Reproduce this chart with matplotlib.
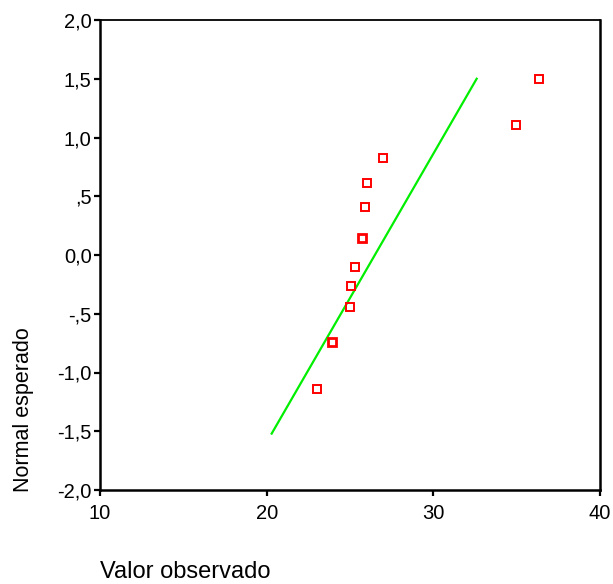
import matplotlib
matplotlib.use("Agg")
import matplotlib.pyplot as plt

plt.rcParams['font.family'] = ['Liberation Sans', 'DejaVu Sans']

# Observed values and expected normal values (Q-Q plot)
observed = [23.02, 23.92, 25.00, 25.06, 25.30, 25.72, 25.92, 26.02, 26.98, 34.98, 36.36]
expected = [-1.138, -0.738, -0.440, -0.261, -0.100, 0.147, 0.411, 0.610, 0.828, 1.109, 1.495]
tied = [False, True, False, False, False, True, False, False, False, False, False]

# Reference line endpoints
line_x = [20.3, 32.6]
line_y = [-1.52, 1.50]

xticks = [10, 20, 30, 40]
xticklabels = ["10", "20", "30", "40"]
yticks = [2.0, 1.5, 1.0, 0.5, 0.0, -0.5, -1.0, -1.5, -2.0]
yticklabels = ["2,0", "1,5", "1,0", ",5", "0,0", "-,5", "-1,0", "-1,5", "-2,0"]

W, H = 613, 584
fig = plt.figure(figsize=(W / 100, H / 100), dpi=100)
ax = fig.add_axes([100 / W, (H - 490) / H, 500 / W, 470 / H])

ax.plot(line_x, line_y, color='#00ee00', lw=1.6, zorder=2)

for x, y, t in zip(observed, expected, tied):
    ax.plot([x], [y], marker='s', linestyle='none', markersize=5.4,
            markerfacecolor='none', markeredgecolor='#ff0000',
            markeredgewidth=2.0 if t else 1.4, zorder=3)

ax.set_xlim(10, 40)
ax.set_ylim(-2, 2)
ax.set_xticks(xticks)
ax.set_xticklabels(xticklabels)
ax.set_yticks(yticks)
ax.set_yticklabels(yticklabels)
ax.tick_params(axis='both', direction='out', length=4, width=1.6,
               labelsize=14.5, colors='black')
ax.tick_params(axis='y', pad=2)
ax.tick_params(axis='x', pad=6)
ax.tick_params(top=False, right=False)
for side in ['left', 'bottom', 'right']:
    ax.spines[side].set_linewidth(1.8)
ax.spines['top'].set_linewidth(1.3)

fig.text(100 / W, 1 - 572 / H, "Valor observado", fontsize=17,
         ha='left', va='center')
fig.text(24 / W, 1 - 492 / H, "Normal esperado", fontsize=15.5,
         rotation=90, ha='center', va='bottom')

fig.savefig("out.png", dpi=100)
